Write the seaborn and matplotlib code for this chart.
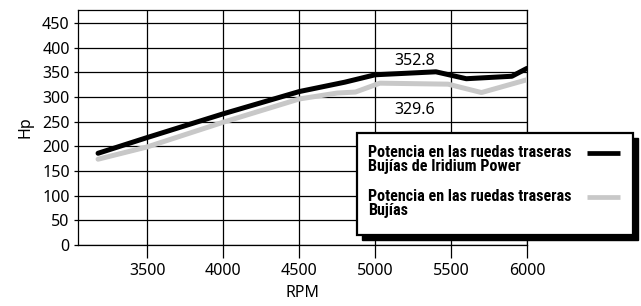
import matplotlib
matplotlib.use("Agg")
import matplotlib.pyplot as plt
import seaborn as sns
import pandas as pd
from matplotlib.patches import Rectangle
from matplotlib.lines import Line2D

# data
rpm_iridium = [3175, 3500, 4000, 4500, 4800, 5000, 5400, 5600, 5900, 6000]
hp_iridium = [186, 218, 266, 311, 330, 345, 351, 337, 342, 358]
rpm_std = [3175, 3500, 4000, 4500, 4750, 4870, 5030, 5480, 5700, 6000]
hp_std = [174, 199, 249, 296, 308, 310, 328, 326, 309, 335]

x_ticks = [3500, 4000, 4500, 5000, 5500, 6000]
y_ticks = [0, 50, 100, 150, 200, 250, 300, 350, 400, 450]

label_iridium = "Potencia en las ruedas traseras\nBujías de Iridium Power"
label_std = "Potencia en las ruedas traseras\nBujías"
peak_labels = ["352.8", "329.6"]

df_ir = pd.DataFrame({"rpm": rpm_iridium, "hp": hp_iridium})
df_std = pd.DataFrame({"rpm": rpm_std, "hp": hp_std})

sns.set_theme(style="white")
plt.rcParams["font.family"] = ["Noto Sans", "DejaVu Sans"]
plt.rcParams["text.color"] = "black"
plt.rcParams["axes.labelcolor"] = "black"
plt.rcParams["xtick.color"] = "black"
plt.rcParams["ytick.color"] = "black"

fig = plt.figure(figsize=(6.41, 3.06), dpi=100)
ax = fig.add_axes([0.1217, 0.199, 0.7005, 0.768])

sns.lineplot(data=df_std, x="rpm", y="hp", color="#c8c8c8", linewidth=3.6, ax=ax, zorder=3)
sns.lineplot(data=df_ir, x="rpm", y="hp", color="black", linewidth=3.6, ax=ax, zorder=4)

ax.set_xlim(3043, 6000)
ax.set_ylim(0, 476)
ax.set_xticks(x_ticks)
ax.set_yticks(y_ticks)
ax.grid(True, color="black", linewidth=0.9)
ax.set_axisbelow(True)
for s in ax.spines.values():
    s.set_color("black")
    s.set_linewidth(0.9)
ax.tick_params(axis="x", direction="out", length=9, width=0.9,
               labelsize=11.5, pad=4, bottom=True)
ax.tick_params(axis="y", direction="out", length=3, width=0.9,
               labelsize=11.5, pad=3, left=True)
ax.set_xlabel("RPM", fontsize=11.5, labelpad=4)
ax.set_ylabel("Hp", fontsize=11.5, labelpad=6)

ax.text(5262, 373, peak_labels[0], ha="center", va="center", fontsize=11.5)
ax.text(5262, 273, peak_labels[1], ha="center", va="center", fontsize=11.5)

# legend box with drop shadow (figure pixel coords converted to fractions)
W, H = 641, 306
def fx(px):
    return px / W
def fy(py):
    return 1 - py / H

bx0, bx1, by0, by1 = 357, 633, 133, 235
fig.patches.append(Rectangle((fx(bx0 + 5), fy(by1 + 5)), fx(bx1 - bx0), (by1 - by0) / H,
                             transform=fig.transFigure, facecolor="black",
                             edgecolor="black", zorder=5))
fig.patches.append(Rectangle((fx(bx0), fy(by1)), fx(bx1 - bx0), (by1 - by0) / H,
                             transform=fig.transFigure, facecolor="white",
                             edgecolor="black", linewidth=1.6, zorder=6))

legend_font = ["Roboto Condensed", "Roboto", "DejaVu Sans"]
for lab, color, ytop in [(label_iridium, "black", 145), (label_std, "#c8c8c8", 189)]:
    fig.text(fx(368), fy(ytop), lab, ha="left", va="top", fontsize=11.6,
             fontweight="bold", family=legend_font, linespacing=0.95, zorder=7)
    fig.lines.append(Line2D([fx(587), fx(620)], [fy(ytop + 8), fy(ytop + 8)],
                            transform=fig.transFigure, color=color, linewidth=3.4,
                            solid_capstyle="butt", zorder=7))

fig.savefig("out.png", dpi=100)
